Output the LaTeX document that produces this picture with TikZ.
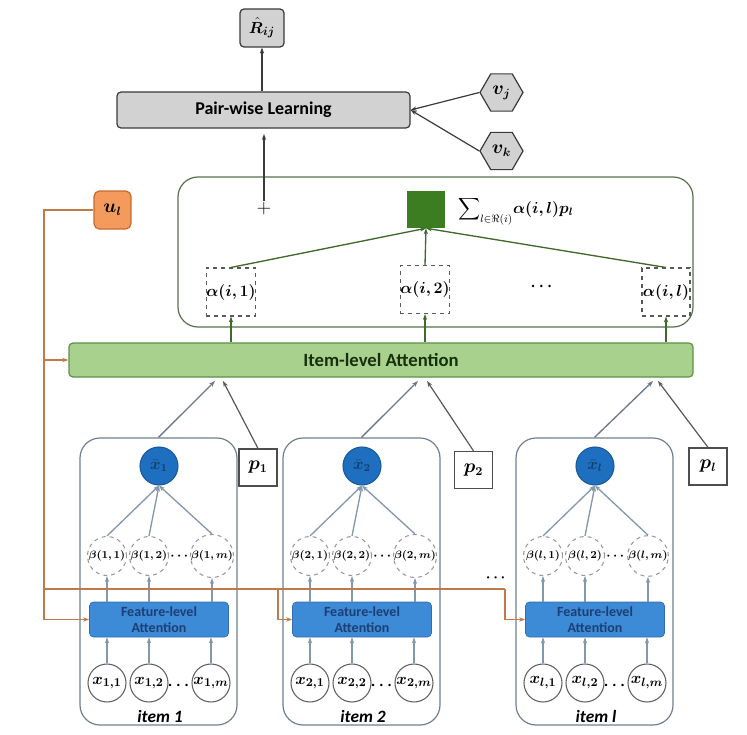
\documentclass[tikz,border=0pt]{standalone}
\usepackage{fontspec}
\setsansfont{Carlito}
\usepackage{amsmath,amssymb,bm}
\usetikzlibrary{shapes.geometric,arrows.meta,calc}
\definecolor{grayfill}{HTML}{D2D2D2}
\definecolor{darkline}{HTML}{3A3A3A}
\definecolor{ulfill}{HTML}{F39A5C}
\definecolor{uldraw}{HTML}{C8692E}
\definecolor{oline}{HTML}{C07A4A}
\definecolor{sqgreen}{HTML}{3C7D22}
\definecolor{iafill}{HTML}{A9D18E}
\definecolor{iadraw}{HTML}{5F8F45}
\definecolor{aggdraw}{HTML}{56704C}
\definecolor{agline}{HTML}{40692C}
\definecolor{itemdraw}{HTML}{6F7F8F}
\definecolor{itemline}{HTML}{8498AC}
\definecolor{xbfill}{HTML}{1E6FC0}
\definecolor{xbdraw}{HTML}{1A5A9A}
\definecolor{fafill}{HTML}{3D8AD6}
\definecolor{fatext}{HTML}{1D3F73}
\definecolor{gtext}{HTML}{16300A}
\begin{document}
\begin{tikzpicture}[x=0.75pt,y=-0.75pt,
  sz/.style 2 args={minimum width=#1*0.75pt,minimum height=#2*0.75pt,inner sep=0pt},
  arr/.style={-{Stealth[length=4.5pt,width=3.2pt]}},
  conn/.style={line width=0.9pt,draw=darkline},
  graybox/.style={draw=darkline,line width=0.9pt,fill=grayfill,rounded corners=3pt},
  hexa/.style={regular polygon,regular polygon sides=6,minimum size=43*0.75pt,inner sep=0pt,draw=darkline,line width=0.9pt,fill=grayfill},
  abox/.style={draw=gray!70!black,dashed,line width=0.8pt,sz={48}{48}},
  aline/.style={line width=1pt,draw=agline},
  olinestyle/.style={line width=1pt,draw=oline},
  itembox/.style={draw=itemdraw,line width=0.9pt,rounded corners=15pt,sz={157}{287}},
  iline/.style={line width=1pt,draw=itemline},
  bcirc/.style={circle,draw=gray!80,dashed,line width=0.8pt,minimum size=39*0.75pt,inner sep=0pt,font=\fontsize{8.3}{9}\selectfont},
  xcirc/.style={circle,draw=darkline!80,line width=0.8pt,minimum size=38*0.75pt,inner sep=0pt,font=\fontsize{12.5}{13}\selectfont},
  pbox/.style={draw=darkline!90,line width=0.9pt,sz={38}{37},font=\fontsize{13.5}{14}\selectfont},
  fabox/.style={fill=fafill,draw=fafill!80!black,line width=0.5pt,rounded corners=3pt,sz={139}{35},align=center,text=fatext,font=\sffamily\bfseries\fontsize{10.5}{11.5}\selectfont}
]
\useasboundingbox (0,0) rectangle (747,735);

% ---------- top part ----------
\node[graybox,sz={44}{38},font=\fontsize{13}{14}\selectfont] (R) at (262,28) {$\hat{\bm{R}}_{\bm{ij}}$};
\node[graybox,sz={293}{36},font=\sffamily\bfseries\fontsize{13.5}{15}\selectfont] (PWL) at (263.5,110) {Pair-wise Learning};
\node[hexa,font=\fontsize{13.5}{14}\selectfont] (vj) at (501.5,92.5) {$\bm{v_j}$};
\node[hexa,font=\fontsize{13.5}{14}\selectfont] (vk) at (501.5,151) {$\bm{v_k}$};
\draw[conn,arr] (PWL.north -| R) -- (R.south);
\draw[conn,arr] (vj.west) -- (PWL.east);
\draw[conn,arr] (vk.west) -- (PWL.east);

% ---------- aggregation box ----------
\node[draw=aggdraw,line width=0.9pt,rounded corners=15pt,sz={515}{150}] (agg) at (435.5,252) {};
\node[font=\fontsize{15}{15}\selectfont,inner sep=1pt] (plus) at (264,209) {$+$};
\draw[conn,arr,shorten >=4pt] (plus.north) -- (PWL.south -| plus);
\node[fill=sqgreen,sz={38}{37}] (sq) at (426,209.5) {};
\node[anchor=west,inner sep=0pt,font=\fontsize{11.5}{13}\selectfont] (sum) at (458,211) {$\displaystyle\sum\nolimits_{l\in\Re(i)}\!\bm{\alpha(i,l)p_l}$};
\node[abox,font=\fontsize{12}{13}\selectfont] (a1) at (231,292) {$\bm{\alpha(i,1)}$};
\node[abox,font=\fontsize{12}{13}\selectfont] (a2) at (425,289.5) {$\bm{\alpha(i,2)}$};
\node[abox,font=\fontsize{12}{13}\selectfont] (al) at (666,292) {$\bm{\alpha(i,l)}$};
\node[font=\fontsize{12}{12}\selectfont] (adots) at (543,287) {$\bm{\cdots}$};
\draw[aline,arr] (a1.north) -- (sq.south);
\draw[aline,arr] (a2.north) -- (sq.south);
\draw[aline,arr] (al.north) -- (sq.south);

% ---------- item-level attention ----------
\node[fill=iafill,draw=iadraw,line width=0.9pt,rounded corners=3pt,sz={624}{34},text=gtext,font=\sffamily\bfseries\fontsize{14}{15}\selectfont] (IA) at (381,360) {Item-level Attention};
\draw[aline,arr] (IA.north -| a1) -- (a1.south);
\draw[aline,arr] (IA.north -| a2) -- (a2.south);
\draw[aline,arr] (IA.north -| al) -- (al.south);

% ---------- user ----------
\node[fill=ulfill,draw=uldraw,line width=0.9pt,rounded corners=4pt,sz={37}{38},font=\fontsize{13.5}{14}\selectfont] (ul) at (112.5,210) {$\bm{u_l}$};

% ---------- items ----------
\foreach \L/\n/\pxx/\pyy/\ta/\tb in {80/1/258/467.5/215/223, 283/2/473.5/470/418/427, 516/l/708/466.5/653/658}{
  \node[itembox] (itm\n) at (\L+78.5,581.5) {};
  \node[circle,fill=xbfill,draw=xbdraw,line width=0.8pt,minimum size=38*0.75pt,inner sep=0pt,text=xbdraw!70!black,font=\fontsize{12}{13}\selectfont] (xb\n) at (\L+79,466) {$\bm{\bar{x}_{\n}}$};
  \node[bcirc] (b\n a) at (\L+27,556) {$\bm{\beta(\n,1)}$};
  \node[bcirc] (b\n b) at (\L+69,556) {$\bm{\beta(\n,2)}$};
  \node[bcirc] (b\n m) at (\L+132,556) {$\bm{\beta(\n,m)}$};
  \node[font=\fontsize{10}{10}\selectfont,inner sep=0pt] (bd\n) at (\L+100.5,556) {$\bm{\cdots}$};
  \node[fabox] (fa\n) at (\L+79,619.5) {Feature-level\\Attention};
  \node[xcirc] (x\n a) at (\L+27,683) {$\bm{x_{\n,1}}$};
  \node[xcirc] (x\n b) at (\L+69,683) {$\bm{x_{\n,2}}$};
  \node[xcirc] (x\n m) at (\L+131,683) {$\bm{x_{\n,m}}$};
  \node[font=\fontsize{12}{12}\selectfont,inner sep=0pt] (xd\n) at (\L+100,686) {$\bm{\cdots}$};
  \node[font=\sffamily\bfseries\itshape\fontsize{13}{14}\selectfont] (lab\n) at (\L+80,716) {item \n};
  \node[pbox] (p\n) at (\pxx,\pyy) {$\bm{p_{\n}}$};
  % connectors inside item
  \foreach \s in {a,b,m}{
    \draw[iline,arr] (x\n\s.north) -- (fa\n.south -| x\n\s);
    \draw[iline,arr] (fa\n.north -| b\n\s) -- (b\n\s.south);
    \draw[iline,arr] (b\n\s.north) -- (xb\n.south);
  }
  % to item-level attention
  \coordinate (tA\n) at (\ta,381);
  \coordinate (tB\n) at (\tb,381);
  \draw[iline,draw=itemline!80!black,arr] (itm\n.north) -- (tA\n);
  \draw[conn,draw=darkline!85,arr] (p\n.north) -- (tB\n);
}

% ---------- orange routing ----------
\coordinate (ocTop) at (44,210);
\coordinate (ocBus) at (44,589);
\coordinate (drop2) at (278,589);
\coordinate (dropL) at (505,589);
\draw[olinestyle,arr] (ul.west) -- (ocTop) |- (fa1.west);
\draw[olinestyle,arr] (ocTop |- IA.west) -- (IA.west);
\draw[olinestyle] (ocBus) -- (dropL);
\draw[olinestyle,arr] (drop2) |- (fa2.west);
\draw[olinestyle,arr] (dropL) |- (fal.west);
\node[font=\fontsize{11}{11}\selectfont,inner sep=0pt] (odots) at (497,578) {$\bm{\cdots}$};
\end{tikzpicture}
\end{document}
